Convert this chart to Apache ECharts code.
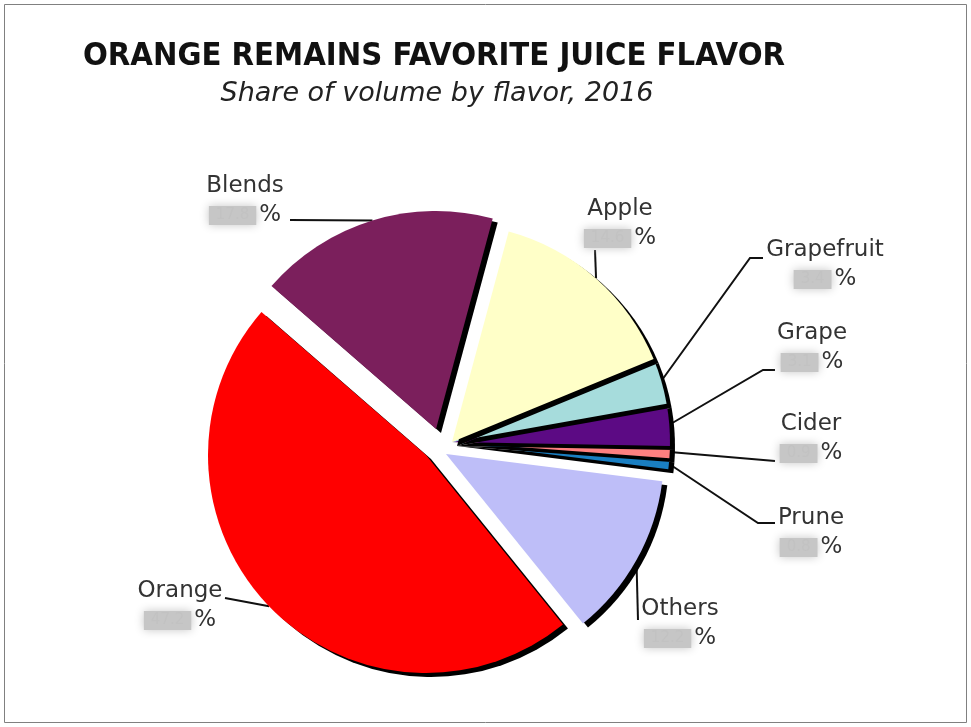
<!DOCTYPE html>
<html>
<head>
<meta charset="utf-8">
<script src="https://cdn.jsdelivr.net/npm/echarts@6/dist/echarts.min.js"></script>
<style>
  html, body { margin: 0; padding: 0; background: #fff; }
  #main { width: 971px; height: 727px; }
</style>
</head>
<body>
<div id="main"></div>
<script>
// data order runs counter-clockwise from the Orange/Blends boundary,
// so the later slices paint their shadow over the earlier neighbours
const flavors = ['Orange', 'Others', 'Prune', 'Cider', 'Grape', 'Grapefruit', 'Apple', 'Blends'];
const shares = [47.2, 12.2, 0.8, 0.9, 3.1, 3.4, 14.6, 17.8];

const sliceColors = {
	Orange: '#ff0000',
	Others: '#bebef8',
	Prune: '#1a7fc2',
	Cider: '#ff8080',
	Grape: '#5c0a84',
	Grapefruit: '#a6dcdc',
	Apple: '#ffffc8',
	Blends: '#7b1f5c'
};

// pie centre for each piece: the exploded slices sit on their own centre
const pieces = [
	{ names: ['Prune', 'Cider', 'Grape', 'Grapefruit', 'Apple'], center: [452, 442] },
	{ names: ['Orange'], center: [426, 455] },
	{ names: ['Others'], center: [446, 454] },
	{ names: ['Blends'], center: [436, 429] }
];

// label block centre + leader line bends (slice end point comes from echarts)
const labelSpots = {
	Blends: { x: 245, y: 201, line: [[290, 220]] },
	Apple: { x: 620, y: 224, line: [[595, 250]] },
	Grapefruit: { x: 825, y: 265, line: [[750, 258], [763, 258]] },
	Grape: { x: 812, y: 348, line: [[763, 370], [775, 370]] },
	Cider: { x: 811, y: 439, line: [[775, 461]] },
	Prune: { x: 811, y: 533, line: [[758, 523], [775, 523]] },
	Others: { x: 680, y: 624, line: [[638, 620]] },
	Orange: { x: 180, y: 606, line: [[225, 598]] }
};

const chart = echarts.init(document.getElementById('main'));

const hidden = 'rgba(0,0,0,0)';

function pieSeries(piece) {
	return {
		type: 'pie',
		center: piece.center,
		radius: 218,
		startAngle: 139,
		clockwise: false,
		silent: true,
		avoidLabelOverlap: false,
		itemStyle: {
			borderWidth: 0,
			shadowColor: '#000',
			shadowBlur: 0,
			shadowOffsetX: 5,
			shadowOffsetY: 4
		},
		emphasis: { disabled: true },
		label: {
			show: true,
			position: 'outside',
			formatter: p => '{nm|' + p.name + '}\n{val|' + p.value + '}{pc|%}',
			rich: {
				nm: { fontFamily: 'DejaVu Sans', fontSize: 23, color: '#333', lineHeight: 29 },
				val: {
					fontFamily: 'DejaVu Sans',
					fontSize: 15,
					color: '#c2c2c2',
					backgroundColor: '#c6c6c6',
					padding: [0, 7],
					height: 19,
					lineHeight: 19,
					shadowBlur: 10,
					shadowColor: '#c6c6c6'
				},
				pc: { fontFamily: 'DejaVu Sans', fontSize: 23, color: '#333', lineHeight: 29, padding: [0, 0, 0, 3] }
			}
		},
		labelLine: {
			show: true,
			length: 20,
			length2: 20,
			lineStyle: { color: '#111', width: 2 }
		},
		labelLayout: function (params) {
			const spot = labelSpots[flavors[params.dataIndex]];
			const out = { x: spot.x, y: spot.y, align: 'center', verticalAlign: 'middle' };
			if (params.labelLinePoints) {
				out.labelLinePoints = [params.labelLinePoints[0]].concat(spot.line);
			}
			return out;
		},
		data: flavors.map((name, i) => {
			const on = piece.names.indexOf(name) >= 0;
			return {
				name: name,
				value: shares[i],
				itemStyle: on
					? { color: sliceColors[name] }
					: { color: hidden, shadowColor: hidden },
				label: { show: on },
				labelLine: { show: on }
			};
		})
	};
}

const option = {
	animation: false,
	backgroundColor: '#fff',
	title: [
		{
			text: 'ORANGE REMAINS FAVORITE JUICE FLAVOR',
			left: 429,
			top: 35,
			textAlign: 'center',
			textStyle: {
				fontFamily: 'DejaVu Sans Condensed',
				fontWeight: 'bold',
				fontSize: 32.5,
				color: '#111'
			}
		},
		{
			text: 'Share of volume by flavor, 2016',
			left: 432,
			top: 75,
			textAlign: 'center',
			textStyle: {
				fontFamily: 'DejaVu Sans',
				fontStyle: 'italic',
				fontWeight: 'normal',
				fontSize: 27,
				color: '#222'
			}
		}
	],
	graphic: [
		{
			type: 'rect',
			shape: { x: 4.5, y: 4.5, width: 962, height: 718 },
			style: { fill: 'none', stroke: '#808080', lineWidth: 1 },
			silent: true
		}
	],
	series: pieces.map(pieSeries)
};

chart.setOption(option);
</script>
</body>
</html>
